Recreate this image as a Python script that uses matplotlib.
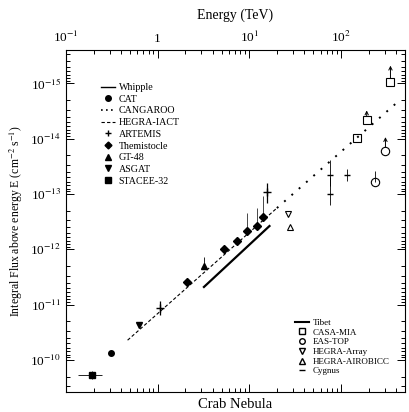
import matplotlib
matplotlib.use("Agg")
import matplotlib.pyplot as plt
from matplotlib.lines import Line2D
from matplotlib.ticker import FixedLocator, FuncFormatter, LogLocator, NullFormatter

plt.rcParams['font.family'] = ['Liberation Serif', 'DejaVu Serif']
plt.rcParams['mathtext.fontset'] = 'stix'

# Imaging Cherenkov telescopes (integral flux above E, cm^-2 s^-1; E in TeV)
E_stacee = [0.19]; F_stacee = [1.9e-10]
E_cat = [0.31]; F_cat = [7.5e-11]
E_asgat = [0.62]; F_asgat = [2.3e-11]
E_artemis = [1.05, 15.7]; F_artemis = [1.15e-11, 9.3e-14]
E_gt48 = [3.2]; F_gt48 = [2.0e-12]
E_them = [2.1, 5.3, 7.4, 9.5, 12.0, 14.0]
F_them = [3.9e-12, 1.0e-12, 7.1e-13, 4.7e-13, 3.8e-13, 2.6e-13]
F_them_lo = [0.0, 0.0, 0.0, 2.2e-13, 1.8e-13, 1.1e-13]

# Integral power-law spectra
E_hegra = [0.47, 20.0]; F_hegra = [4.4e-11, 1.8e-13]
E_cang = [20.0, 400.0]; F_cang = [1.8e-13, 2.3e-15]
E_tibet = [3.2, 16.6]; F_tibet = [4.8e-12, 3.8e-13]

# Air-shower arrays (flux limits carry arrows toward lower flux)
E_casa = [347.0, 191.0, 148.0]; F_casa = [9.6e-16, 4.7e-15, 9.8e-15]
F_casa_lim = [4.8e-16, 3.1e-15, None]
E_eastop = [306.0, 234.0]; F_eastop = [1.7e-14, 6.1e-14]
F_eastop_lim = [9.4e-15, None]
E_array = [26.6]; F_array = [2.3e-13]
E_airobicc = [28.0]; F_airobicc = [4.0e-13]
E_cygnus = [76.0, 76.0, 116.0]; F_cygnus = [4.6e-14, 1.0e-13, 4.6e-14]

x_ticks = [0.1, 1, 10, 100]
x_tick_labels = ['10$^{-1}$', '1', '10$^{1}$', '10$^{2}$']
y_ticks = [1e-15, 1e-14, 1e-13, 1e-12, 1e-11, 1e-10]
y_tick_labels = ['10$^{-15}$', '10$^{-14}$', '10$^{-13}$', '10$^{-12}$', '10$^{-11}$', '10$^{-10}$']

fig = plt.figure(figsize=(4.1, 4.12), dpi=100)
ax = fig.add_axes([66/410, 20/412, 339/410, 342/412])
ax.set_xscale('log'); ax.set_yscale('log')
ax.set_xlim(0.1, 500)
ax.set_ylim(3.8e-10, 2.5e-16)

ax.plot(E_hegra, F_hegra, ls=(0, (3, 2)), color='k', lw=0.8)
ax.plot(E_cang, F_cang, ls=(0, (1, 4)), color='k', lw=1.4)
ax.plot(E_tibet, F_tibet, ls='-', color='k', lw=1.6)

ax.errorbar(E_stacee, F_stacee, xerr=[[0.055], [0.06]], yerr=[[3e-11], [3e-11]],
            fmt='s', color='k', ms=5, lw=0.6)
ax.plot(E_cat, F_cat, 'o', color='k', ms=4)
ax.plot(E_asgat, F_asgat, 'v', color='k', ms=5)
ax.errorbar(E_artemis, F_artemis, yerr=[[3e-12, 3e-14], [4e-12, 5e-14]], fmt='+',
            color='k', ms=6, lw=0.9)
ax.errorbar(E_gt48, F_gt48, yerr=[[6e-13], [0]], fmt='^', color='k', ms=5, lw=0.6)
ax.errorbar(E_them, F_them, yerr=[[f - l if l else 0 for f, l in zip(F_them, F_them_lo)],
                                  [0] * len(F_them)],
            fmt='D', color='k', ms=4, lw=0.5)

ax.plot(E_casa, F_casa, 's', mfc='none', color='k', ms=6, mew=0.8)
ax.plot(E_eastop, F_eastop, 'o', mfc='none', color='k', ms=6, mew=0.8)
for e, f, lim in list(zip(E_casa, F_casa, F_casa_lim)) + list(zip(E_eastop, F_eastop, F_eastop_lim)):
    if lim:
        ax.annotate('', xy=(e, lim), xytext=(e, f),
                    arrowprops=dict(arrowstyle='->', lw=0.7, color='k', shrinkA=3, shrinkB=0,
                                    mutation_scale=6))
ax.errorbar(E_eastop[1:], F_eastop[1:], yerr=[[2.2e-14], [0]], fmt='none', color='k', lw=0.6)
ax.plot(E_array, F_array, 'v', mfc='none', color='k', ms=5, mew=0.8)
ax.plot(E_airobicc, F_airobicc, '^', mfc='none', color='k', ms=5, mew=0.8)
ax.errorbar(E_cygnus, F_cygnus, yerr=[[2.2e-14, 5e-14, 1e-14], [2.5e-14, 6e-14, 1.2e-14]],
            fmt='_', color='k', ms=4, lw=0.6)

ax.xaxis.tick_top()
ax.xaxis.set_label_position('top')
ax.xaxis.set_major_locator(FixedLocator(x_ticks))
ax.xaxis.set_major_formatter(FuncFormatter(
    lambda v, p: x_tick_labels[x_ticks.index(v)] if v in x_ticks else ''))
ax.xaxis.set_minor_locator(LogLocator(base=10, subs=range(2, 10), numticks=20))
ax.xaxis.set_minor_formatter(NullFormatter())
ax.yaxis.set_major_locator(FixedLocator(y_ticks))
ax.yaxis.set_major_formatter(FuncFormatter(
    lambda v, p: y_tick_labels[p] if p is not None and p < len(y_tick_labels) else ''))
ax.yaxis.set_minor_locator(LogLocator(base=10, subs=range(2, 10), numticks=20))
ax.yaxis.set_minor_formatter(NullFormatter())
ax.tick_params(which='both', direction='in', top=True, bottom=True, left=True, right=True,
               labelsize=9.5, width=0.7)
ax.tick_params(which='major', length=6)
ax.tick_params(which='minor', length=3)
ax.set_xlabel('Energy (TeV)', fontsize=10, labelpad=8)
ax.set_ylabel(r'Integral Flux above energy E (cm$^{-2}$ s$^{-1}$)', fontsize=8.5, labelpad=4)
fig.text((66 + 339 / 2) / 410, 4 / 412, 'Crab Nebula', ha='center', fontsize=10.5)

left_handles = [
    Line2D([], [], ls='-', color='k', lw=1.0),
    Line2D([], [], marker='o', ls='none', color='k', ms=4),
    Line2D([], [], ls=(0, (1, 2)), color='k', lw=1.2),
    Line2D([], [], ls=(0, (3, 2)), color='k', lw=0.8),
    Line2D([], [], marker='+', ls='none', color='k', ms=5),
    Line2D([], [], marker='D', ls='none', color='k', ms=3.5),
    Line2D([], [], marker='^', ls='none', color='k', ms=4),
    Line2D([], [], marker='v', ls='none', color='k', ms=4),
    Line2D([], [], marker='s', ls='none', color='k', ms=4),
]
left_labels = ['Whipple', 'CAT', 'CANGAROO', 'HEGRA-IACT', 'ARTEMIS',
               'Themistocle', 'GT-48', 'ASGAT', 'STACEE-32']
leg1 = ax.legend(left_handles, left_labels, loc='upper left', bbox_to_anchor=(0.09, 0.915),
                 frameon=False, fontsize=7.2, handlelength=1.4, handletextpad=0.4,
                 labelspacing=0.27, borderaxespad=0)
ax.add_artist(leg1)

right_handles = [
    Line2D([], [], ls='-', color='k', lw=1.5),
    Line2D([], [], marker='s', mfc='none', ls='none', color='k', ms=4),
    Line2D([], [], marker='o', mfc='none', ls='none', color='k', ms=4),
    Line2D([], [], marker='v', mfc='none', ls='none', color='k', ms=4),
    Line2D([], [], marker='^', mfc='none', ls='none', color='k', ms=4),
    Line2D([], [], marker='_', ls='none', color='k', ms=4),
]
right_labels = ['Tibet', 'CASA-MIA', 'EAS-TOP', 'HEGRA-Array', 'HEGRA-AIROBICC', 'Cygnus']
ax.legend(right_handles, right_labels, loc='upper left', bbox_to_anchor=(0.665, 0.225),
          frameon=False, fontsize=6.5, handlelength=1.6, handletextpad=0.35,
          labelspacing=0.15, borderaxespad=0)

fig.savefig('out.png', dpi=100)
